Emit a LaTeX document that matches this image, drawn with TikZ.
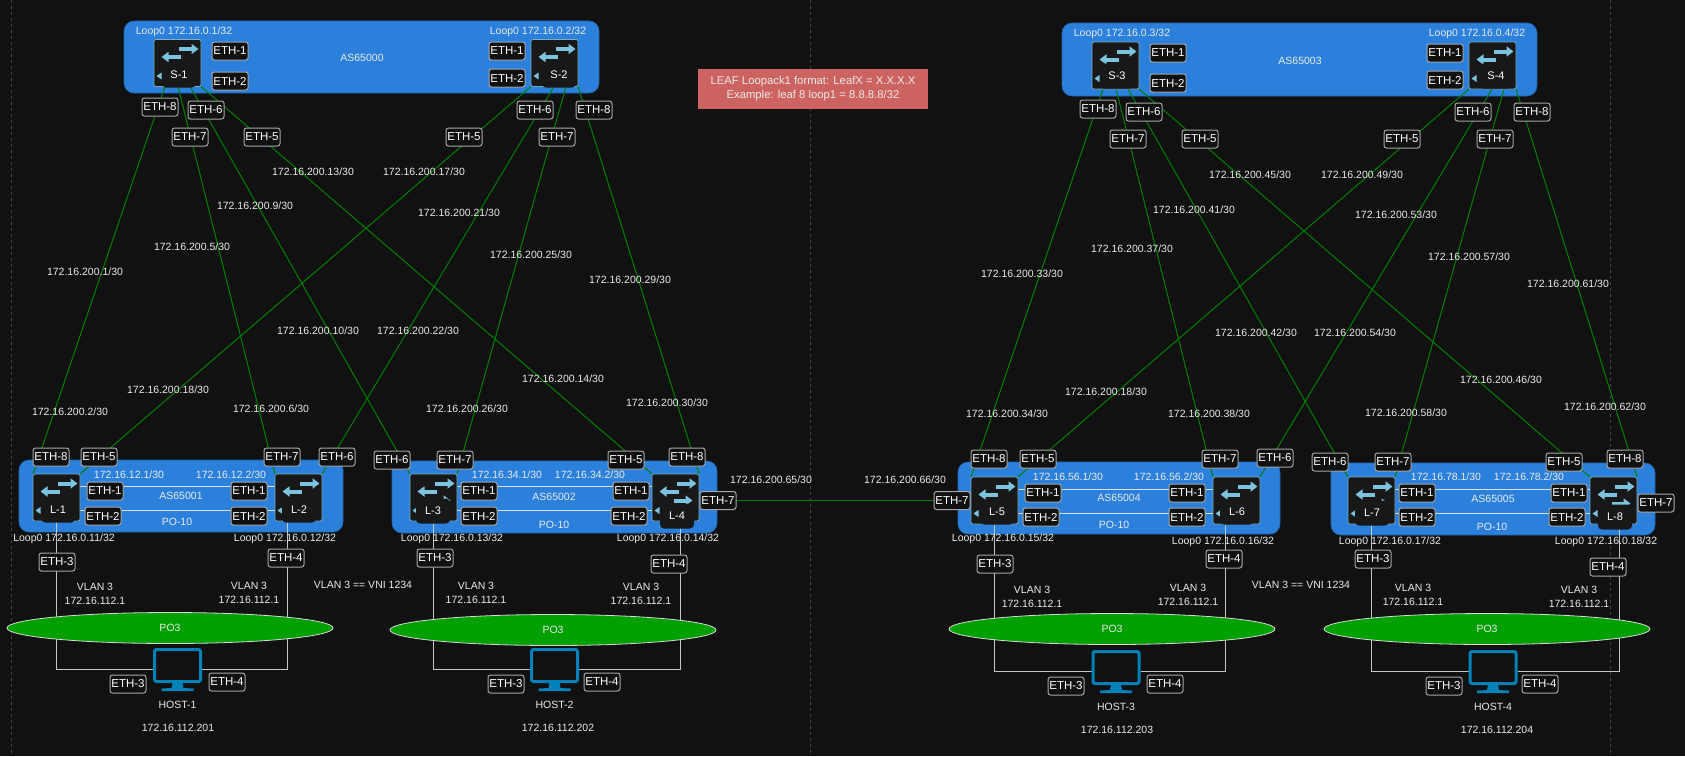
\documentclass[tikz,border=0pt]{standalone}
\usepackage{fontspec}
\setmainfont{Liberation Sans}
\usetikzlibrary{arrows.meta,shapes.geometric}
\definecolor{pagebg}{HTML}{111111}
\definecolor{asblue}{HTML}{2B80DB}
\definecolor{iconblue}{HTML}{7CC3E0}
\definecolor{hostblue}{HTML}{0082B8}
\definecolor{swdark}{HTML}{181818}
\definecolor{pogreen}{HTML}{00A000}
\definecolor{notered}{HTML}{CD6360}
\definecolor{txtgray}{HTML}{EAEAEA}
\pgfdeclarelayer{bg}
\pgfdeclarelayer{wires}
\pgfsetlayers{bg,wires,main}
\tikzset{
  iplabel/.style={text=txtgray,font=\fontsize{10.5}{14}\selectfont,inner sep=0pt,align=center},
  ethlabel/.style={draw=gray!70!white,fill=pagebg,rounded corners=2.5pt,line width=1pt,text=white,
    minimum width=36pt,minimum height=18pt,inner sep=0pt,font=\fontsize{11.5}{14}\selectfont},
  asbox/.style={fill=asblue,draw=asblue!80!black,rounded corners=10pt,inner sep=0pt,line width=0.6pt},
  swbox/.style={fill=swdark,draw=iconblue!70!gray,rounded corners=2pt,line width=0.7pt,
    minimum width=47pt,minimum height=47pt,inner sep=0pt,outer sep=0pt},
  swname/.style={fill=swdark,rounded corners=4pt,text=white,minimum width=34pt,minimum height=25pt,
    inner sep=0pt,font=\fontsize{11}{14}\selectfont},
  swarrow/.style={iconblue,line width=4pt,-{Triangle[length=7pt,width=10pt]}},
  link/.style={green!50!black,line width=1pt},
  rail/.style={blue!12!white,line width=1pt},
  hostlink/.style={gray!45!white,line width=0.9pt},
  pobox/.style={ellipse,fill=pogreen,draw=gray!30!white,line width=0.8pt,text=txtgray,inner sep=0pt,
    minimum width=326pt,minimum height=31pt,font=\fontsize{10.5}{14}\selectfont},
  hostbox/.style={minimum width=49pt,minimum height=43pt,inner sep=0pt,outer sep=0pt},
  pageline/.style={gray!45!pagebg,line width=0.7pt,dashed}
}
\begin{document}
\begin{tikzpicture}[x=1pt,y=-1pt]
\useasboundingbox (0,0) rectangle (1685,756);

% Page
\begin{pgfonlayer}{bg}
\fill[pagebg] (0,0) rectangle (1685,756);
\foreach \px in {11.5,810,1610}
  \draw[pageline] (\px,0) -- (\px,756);
\end{pgfonlayer}

% AS blocks
\begin{pgfonlayer}{bg}
\foreach \nm/\cx/\cy/\bw/\bh in {A0/361.5/57/475/72,A3/1299.5/59.5/475/73,A1/181/496/324/72,
    A2/554.5/497/325/72,A4/1119/498/322/72,A5/1493/499/324/72}
  \node[asbox,minimum width=\bw pt,minimum height=\bh pt] (\nm) at (\cx,\cy) {};
\end{pgfonlayer}

% Switches
\foreach \nm/\cx/\cy/\lx/\ly/\tx/\extra in {
    S1/177.5/63/179/75/S-1/0,S2/554.5/63/559/75/S-2/0,
    S3/1115.5/65.5/1117/76/S-3/0,S4/1492.5/65.5/1496/76/S-4/0,
    L1/56.5/497.5/58/510/L-1/0,L2/298.5/497.5/299/510/L-2/0,
    L3/433.5/497.5/433/511/L-3/1,L4/675.5/497.5/677/516/L-4/1,
    L5/994.5/500.5/997/512/L-5/0,L6/1236.5/500.5/1237/512/L-6/0,
    L7/1371.5/500.5/1372/513/L-7/1,L8/1613.5/500.5/1615/517/L-8/1}{
  \node[swbox] (\nm) at (\cx,\cy) {};
  \begin{scope}[shift={(\cx,\cy)}]
    \draw[swarrow] (1.5,-14) -- (21,-14);
    \draw[swarrow] (3.5,-6) -- (-16,-6);
    \ifnum\extra=1
      \draw[swarrow] (-2,3) -- (17,3);
    \fi
    \fill[iconblue] (-21,13) -- (-16,9.5) -- (-16,16.5) -- cycle;
  \end{scope}
  \node[swname] (\nm-lab) at (\lx,\ly) {\tx};
}

% Spine to leaf links
\begin{pgfonlayer}{wires}
\foreach \spn/\sx/\lf/\an in {
    S1/11/L1/north west,S1/24/L2/north west,S1/36/L3/north west,S1/47/L4/north west,
    S2/0/L1/north east,S2/23/L2/north east,S2/35/L3/north east,S2/47/L4/north east,
    S3/11/L5/north west,S3/24/L6/north west,S3/36/L7/north west,S3/47/L8/north west,
    S4/0/L5/north east,S4/23/L6/north east,S4/35/L7/north east,S4/47/L8/north east}
  \draw[link] ([xshift=\sx pt]\spn.south west) -- (\lf.\an);

% Peer links
\foreach \la/\lb in {L1/L2,L3/L4,L5/L6,L7/L8}{
  \draw[rail] ([yshift=11.5pt]\la.east) -- ([yshift=11.5pt]\lb.west);
  \draw[rail] ([yshift=-12.5pt]\la.east) -- ([yshift=-12.5pt]\lb.west);
}
\end{pgfonlayer}

% PO ellipses
\foreach \nm/\cx/\cy in {E1/170/628,E2/553/630,E3/1112/629,E4/1487/629}
  \node[pobox] (\nm) at (\cx,\cy) {PO3};

% Hosts
\foreach \nm/\cx/\cy/\i in {H1/177.5/669.5/1,H2/554.5/669.5/2,H3/1116/671.5/3,H4/1493/671.5/4}{
  \node[hostbox] (\nm) at (\cx,\cy) {};
  \begin{scope}[shift={(\cx,\cy)}]
    \draw[hostblue,fill=pagebg,line width=3pt,rounded corners=2pt] (-23,-20) rectangle (23,12);
    \fill[hostblue] (-5,13) -- (5,13) -- (6,18.5) -- (16,19) -- (16,21.5) -- (-16,21.5) -- (-16,19) -- (-6,18.5) -- cycle;
  \end{scope}
  \node[iplabel] (\nm-name) at (\cx,\cy+35) {HOST-\i};
}

% Host links
\begin{pgfonlayer}{wires}
\foreach \lf/\off/\hs/\sd in {L1/0/H1/west,L2/-11.5/H1/east,L3/0/H2/west,L4/4.5/H2/east,
    L5/0/H3/west,L6/-11.5/H3/east,L7/0/H4/west,L8/5.5/H4/east}
  \draw[hostlink] ([xshift=\off pt]\lf.south) |- (\hs.\sd);
\end{pgfonlayer}

% Port labels
\foreach \lx/\ly/\tx [count=\i] in {
    230/51/1,230/81/2,160/107/8,206/110/6,190/137/7,262/137/5,
    507/51/1,507/78/2,464/137/5,535/110/6,557/137/7,594/110/8,
    1168/53/1,1168/83/2,1098/109/8,1144/112/6,1128/139/7,1200/139/5,
    1445/53/1,1445/80/2,1402/139/5,1473/112/6,1495/139/7,1532/112/8,
    51/457/8,99/457/5,282/457/7,337/457/6,105/491/1,103/516/2,249/491/1,249/516/2,
    57/562/3,286/558/4,128/684/3,227/682/4,
    392/460/6,455/460/7,626/460/5,687/457/8,479/491/1,479/516/2,631/491/1,629/516/2,
    435/558/3,669/564/4,506/684/3,602/682/4,
    989/459/8,1038/459/5,1220/459/7,1275/458/6,1043/493/1,1041/517/2,1187/493/1,1187/517/2,
    995/564/3,1224/559/4,1066/686/3,1165/684/4,
    1330/462/6,1393/462/7,1564/462/5,1625/459/8,1417/493/1,1417/517/2,1569/493/1,1567/517/2,
    1373/559/3,1608/567/4,1444/686/3,1540/684/4,1656/503/7}
  \node[ethlabel] (eth\i) at (\lx,\ly) {ETH-\tx};
\node[ethlabel] (ethL4) at (718,500.5) {ETH-7};
\node[ethlabel] (ethL5) at (952,500.5) {ETH-7};

% Inter pod link
\begin{pgfonlayer}{wires}
\draw[link] (ethL4) -- (ethL5);
\end{pgfonlayer}

% Link addresses
\foreach \lx/\ly/\tx [count=\i] in {
    313/172/13,424/172/17,255/206/9,459/213/21,192/247/5,531/255/25,85/272/1,630/280/29,
    318/331/10,418/331/22,168/390/18,563/379/14,70/412/2,271/409/6,467/409/26,667/403/30,
    771/480/65,905/480/66,
    1250/175/45,1362/175/49,1194/210/41,1396/215/53,1132/249/37,1469/257/57,1022/274/33,1568/284/61,
    1256/333/42,1355/333/54,1106/392/18,1501/380/46,1007/414/34,1209/414/38,1406/413/58,1605/407/62}
  \node[iplabel] (ip\i) at (\lx,\ly) {172.16.200.\tx/30};

% Peer addresses
\foreach \lx/\ly/\tx [count=\i] in {129/475/12.1,231/475/12.2,507/475/34.1,590/475/34.2,
    1068/477/56.1,1169/477/56.2,1446/477/78.1,1529/477/78.2}
  \node[iplabel] (peer\i) at (\lx,\ly) {172.16.\tx/30};

% Loopbacks
\foreach \lx/\ly/\tx [count=\i] in {184/32/1,538/32/2,1122/34/3,1477/34/4,64/539/11,285/539/12,
    452/539/13,668/539/14,1003/539/15,1223/542/16,1390/542/17,1606/542/18}
  \node[iplabel] (loop\i) at (\lx,\ly) {Loop0 172.16.0.\tx/32};

% AS and PO names
\foreach \lx/\ly/\tx [count=\i] in {362/58/65000,1300/61/65003,181/496/65001,554/497/65002,
    1119/498/65004,1493/499/65005}
  \node[iplabel] (as\i) at (\lx,\ly) {AS\tx};
\foreach \lx/\ly [count=\i] in {177/522,554/525,1114/525,1492/527}
  \node[iplabel] (po\i) at (\lx,\ly) {PO-10};

% VLAN gateways
\foreach \lx/\ly [count=\i] in {95/594,249/592.5,476/592.5,641/594,1032/597,1188/594.5,1413/594.5,1579/597}
  \node[iplabel] (vlan\i) at (\lx,\ly) {VLAN 3\\172.16.112.1};
\node[iplabel] (vni1) at (363,585) {VLAN 3 == VNI 1234};
\node[iplabel] (vni2) at (1301,585) {VLAN 3 == VNI 1234};

% Host addresses
\foreach \lx/\ly/\tx [count=\i] in {178/728/201,558/728/202,1117/730/203,1497/730/204}
  \node[iplabel] (hip\i) at (\lx,\ly) {172.16.112.\tx};

% Note
\node[iplabel,fill=notered,minimum width=230pt,minimum height=40pt,font=\fontsize{11.3}{14}\selectfont] (note) at (813,89)
  {LEAF Loopack1 format: LeafX = X.X.X.X\\Example: leaf 8 loop1 = 8.8.8.8/32};
\end{tikzpicture}
\end{document}
